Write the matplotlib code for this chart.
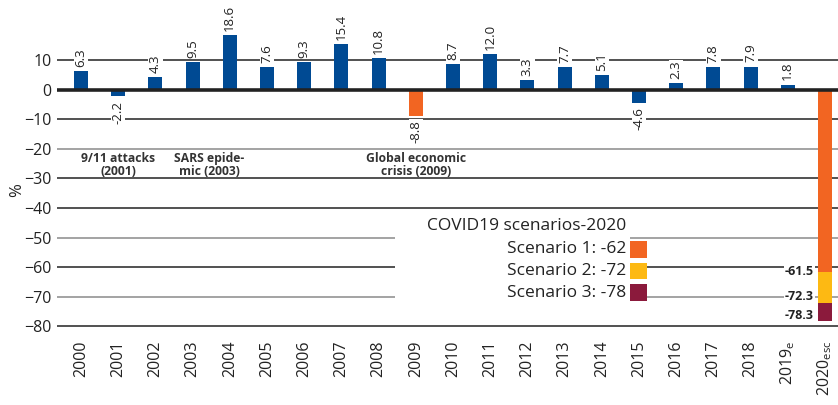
import numpy as np
import matplotlib
matplotlib.use("Agg")
import matplotlib.pyplot as plt
from matplotlib.patches import Rectangle

plt.rcParams["font.family"] = ["Open Sans", "DejaVu Sans"]
plt.rcParams["mathtext.fontset"] = "custom"
plt.rcParams["mathtext.rm"] = "Open Sans"

# data
years = ["2000", "2001", "2002", "2003", "2004", "2005", "2006", "2007", "2008", "2009",
         "2010", "2011", "2012", "2013", "2014", "2015", "2016", "2017", "2018",
         "2019$_{\\mathrm{e}}$", "2020$_{\\mathrm{esc}}$"]
growth = [6.3, -2.2, 4.3, 9.5, 18.6, 7.6, 9.3, 15.4, 10.8, -8.8,
          8.7, 12.0, 3.3, 7.7, 5.1, -4.6, 2.3, 7.8, 7.9, 1.8]
scen_values = [-61.5, -72.3, -78.3]
scen_names = ["Scenario 1: -62", "Scenario 2: -72", "Scenario 3: -78"]
events = [(1, "9/11 attacks\n(2001)"), (3, "SARS epide-\nmic (2003)"), (9, "Global economic\ncrisis (2009)")]

blue = "#004a93"
orange = "#f26522"
yellow = "#fdb913"
maroon = "#8b1a3c"
scen_colors = [orange, yellow, maroon]

W, H = 838, 405
fig = plt.figure(figsize=(W / 100, H / 100), dpi=100)
ax = fig.add_axes([57 / W, (H - 338) / H, 1 - 57 / W, (338 - 16) / H])

x = np.arange(len(years))
colors = [orange if i == 9 else blue for i in range(len(growth))]
ax.bar(x[:len(growth)], growth, 0.38, color=colors, zorder=3)

# stacked 2020 scenarios
bottoms = [0] + scen_values[:-1]
for v, b, c in zip(scen_values, bottoms, scen_colors):
    ax.bar(x[-1], v - b, 0.38, bottom=b, color=c, zorder=3)

# grid
for yv in range(-80, 11, 10):
    if yv == 0:
        continue
    col = "#8a8a8a" if yv in (-20, -50, -70) else "#222222"
    ax.axhline(yv, color=col, lw=1.1, zorder=1)
ax.axhline(0, color="#222222", lw=2.6, zorder=4)

# value labels
for xi, v in zip(x, growth):
    if v >= 0:
        ax.annotate(f"{v:.1f}", (xi, v), xytext=(0, 3), textcoords="offset points",
                    rotation=90, ha="center", va="bottom", fontsize=9.5, color="#222222",
                    bbox=dict(facecolor="white", edgecolor="none", pad=0.5), zorder=5)
    else:
        ax.annotate(f"{v:.1f}", (xi, v), xytext=(0, -3), textcoords="offset points",
                    rotation=90, ha="center", va="top", fontsize=9.5, color="#222222",
                    bbox=dict(facecolor="white", edgecolor="none", pad=0.5), zorder=5)

for v, dy in zip(scen_values, [0, 5, 4]):
    ax.annotate(f"{v:.1f}", (x[-1] - 0.3, v), xytext=(0, dy), textcoords="offset points",
                ha="right", va="center", fontsize=9, fontweight="bold", color="#222222",
                bbox=dict(facecolor="white", edgecolor="none", pad=0.5), zorder=5)

# event notes
for (xi, txt), dx in zip(events, [0.0, 0.45, 0.0]):
    ax.text(xi + dx, -25.5, txt, ha="center", va="center", fontsize=8.7,
            fontweight="bold", color="#333333", linespacing=1.0, zorder=5)

# scenario legend box
ax.add_patch(Rectangle((8.45, -77), 6.3, 35, facecolor="white", edgecolor="none", zorder=2))
ax.text(14.65, -46, "COVID19 scenarios-2020", ha="right", va="center", fontsize=12.5,
        color="#222222", zorder=5)
for i, (name, c) in enumerate(zip(scen_names, scen_colors)):
    yc = -54 - 7.3 * i
    ax.text(14.65, yc, name, ha="right", va="center", fontsize=12.5, color="#222222", zorder=5)
    ax.add_patch(Rectangle((14.75, yc - 2.8), 0.47, 5.6, facecolor=c, edgecolor="none", zorder=5))

ax.set_xlim(-0.645, 20.35)
ax.set_ylim(-84, 25)
ax.set_yticks(range(-80, 11, 10))
ax.set_xticks(x)
ax.set_xticklabels(years, rotation=90, fontsize=11.5, color="#222222")
ax.tick_params(axis="both", length=0, labelsize=11.5, colors="#222222")
ax.tick_params(axis="x", pad=2)
ax.tick_params(axis="y", pad=4)
for s in ax.spines.values():
    s.set_visible(False)
ax.set_ylabel("%", fontsize=12, color="#222222")
ax.yaxis.set_label_coords(-0.041, 0.46)

plt.savefig("out.png", dpi=100)
